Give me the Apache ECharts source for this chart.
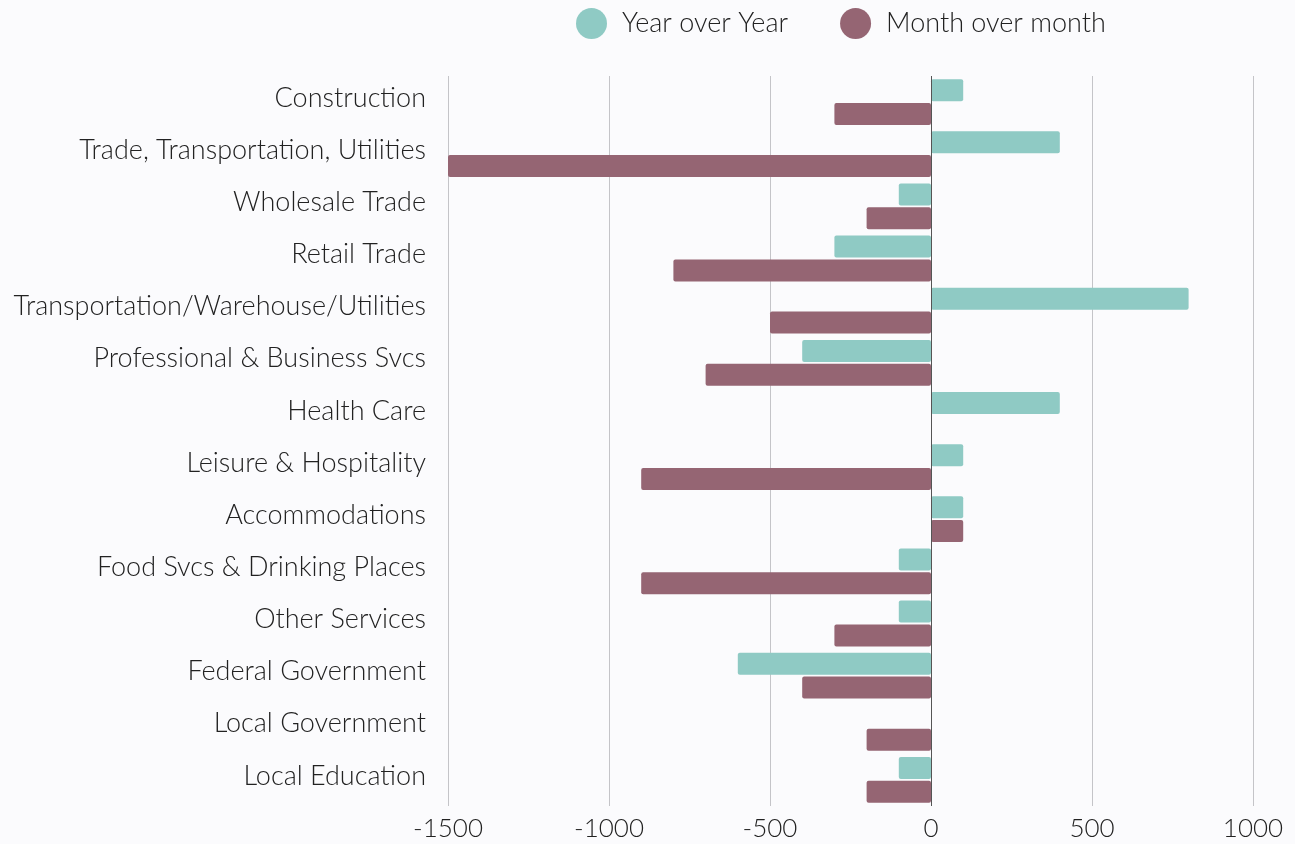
<!DOCTYPE html>
<html lang="en">
<head>
	<meta charset="UTF-8">
	<title>Employment change by sector</title>
	<style>
		html, body { margin: 0; padding: 0; background: #fbfbfd; }
	</style>
</head>
<body>
	<div id="main" style="width: 1295px;height:844px;"></div>

<script src='https://cdnjs.cloudflare.com/ajax/libs/echarts/6.0.0/echarts.min.js'></script>
<script>

		var categories = ["Construction", "Trade, Transportation, Utilities", "Wholesale Trade", "Retail Trade",
			"Transportation/Warehouse/Utilities", "Professional & Business Svcs", "Health Care",
			"Leisure & Hospitality", "Accommodations", "Food Svcs & Drinking Places", "Other Services",
			"Federal Government", "Local Government", "Local Education"];
		var yearOverYear = [100, 400, -100, -300, 800, -400, 400, 100, 100, -100, -100, -600, 0, -100];
		var monthOverMonth = [-300, -1500, -200, -800, -500, -700, 0, -900, 100, -900, -300, -400, -200, -200];
		var xTicks = [-1500, 1000, 500];   // min, max, interval

		var font = 'Lato';
		var myChart = echarts.init(document.getElementById('main'));

		var option = {
			backgroundColor: '#fbfbfd',
			textStyle: { fontFamily: font, fontWeight: 300 },
			legend: {
				top: 3,
				left: 571,
				icon: 'circle',
				itemWidth: 31,
				itemHeight: 31,
				itemGap: 52,
				textStyle: { fontFamily: font, fontWeight: 300, fontSize: 27, color: '#222', padding: [0, 0, 0, 10] },
				data: ['Year over Year', 'Month over month']
			},
			grid: { left: 448, right: 42, top: 76, bottom: 38, containLabel: false },
			xAxis: {
				type: 'value',
				min: xTicks[0],
				max: xTicks[1],
				interval: xTicks[2],
				axisLine: { show: false },
				axisTick: { show: false },
				axisLabel: { fontFamily: font, fontWeight: 300, fontSize: 26, color: '#222', margin: 10,
					formatter: function (v) { return String(v); } },
				splitLine: { lineStyle: { color: '#c4c4c8', width: 1 } }
			},
			yAxis: {
				type: 'category',
				inverse: true,
				data: categories,
				axisLine: { show: false },
				axisTick: { show: false },
				axisLabel: { fontFamily: font, fontWeight: 300, fontSize: 27, color: '#222', margin: 22,
					verticalAlign: 'bottom', lineHeight: 8 }
			},
			series: [{
				name: 'Year over Year',
				type: 'bar',
				data: yearOverYear,
				barWidth: 22,
				barGap: '8%',
				itemStyle: { color: '#8fcac4', borderRadius: 2 },
				markLine: {
					silent: true,
					symbol: 'none',
					label: { show: false },
					lineStyle: { color: '#555', width: 1, type: 'solid' },
					data: [{ xAxis: 0 }]
				}
			}, {
				name: 'Month over month',
				type: 'bar',
				data: monthOverMonth,
				barWidth: 22,
				itemStyle: { color: '#956573', borderRadius: 2 }
			}]
		};
		myChart.setOption(option);

	</script>
</body>
</html>
